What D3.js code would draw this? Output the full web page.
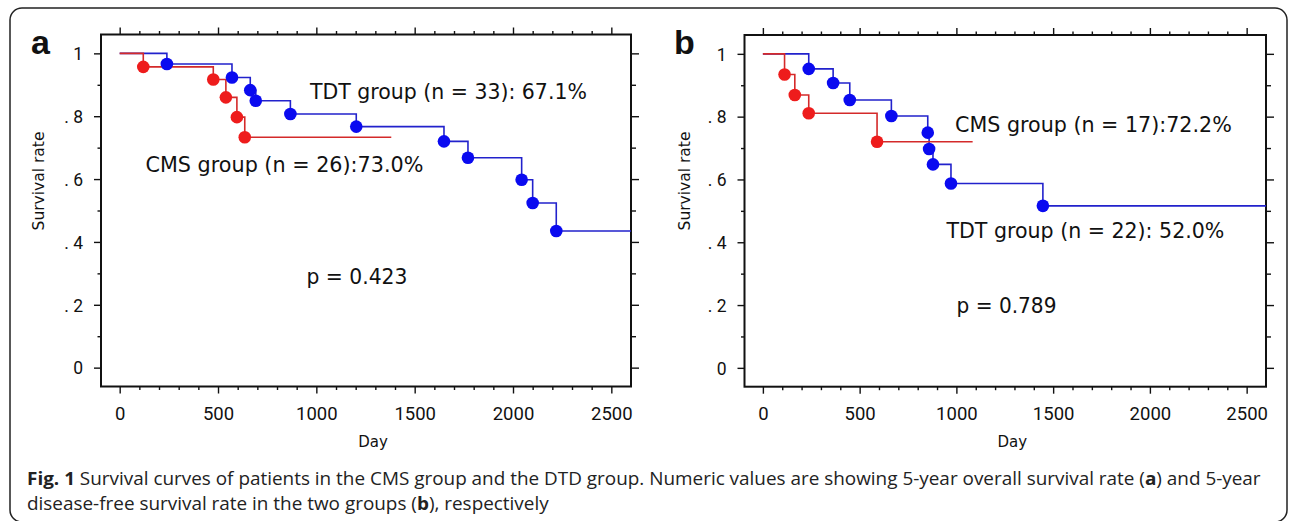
<!DOCTYPE html>
<html>
<head>
<meta charset="utf-8">
<script src="https://cdn.jsdelivr.net/npm/d3@7/dist/d3.min.js"></script>
<style>
  body { margin: 0; background: #fff; }
</style>
</head>
<body>
<script>
// ---- данные ----
var xMajorTicks = [0, 500, 1000, 1500, 2000, 2500];
var xMinorTicks = d3.range(100, 2600, 100).filter(function (d) { return d % 500 !== 0; });
var yMajorTicks = [0, 0.2, 0.4, 0.6, 0.8, 1];
var yMinorTicks = [0.1, 0.3, 0.5, 0.7, 0.9];
var yTickLabels = ["0", ". 2", ". 4", ". 6", ". 8", "1"];

// panel a: overall survival
var aCmsDays = [120, 476, 540, 596, 636];
var aCmsSurv = [0.957, 0.917, 0.860, 0.797, 0.733];
var aCmsEnd = 1381;
var aTdtDays = [240, 571, 664, 692, 868, 1203, 1649, 1771, 2044, 2100, 2220];
var aTdtSurv = [0.966, 0.923, 0.883, 0.849, 0.807, 0.767, 0.720, 0.668, 0.598, 0.524, 0.435];
var aTdtEnd = 2600;

// panel b: disease-free survival
var bCmsDays = [112, 165, 237, 590];
var bCmsSurv = [0.934, 0.869, 0.811, 0.720];
var bCmsEnd = 1084;
var bTdtDays = [237, 363, 449, 664, 852, 859, 879, 972, 1447];
var bTdtSurv = [0.952, 0.907, 0.853, 0.802, 0.749, 0.697, 0.648, 0.587, 0.516];
var bTdtEnd = 2600;

var xDomain = [-95, 2600];
var yDomain = [-0.06, 1.06];

var lineRed = "#d42a2a", dotRed = "#ee1c1c";
var lineBlue = "#2222cc", dotBlue = "#0a0af0";

var svg = d3.select("body").append("svg")
    .attr("width", 1290)
    .attr("height", 521);

// рамка вокруг рисунка
svg.append("rect")
    .attr("x", 10).attr("y", 8)
    .attr("width", 1277).attr("height", 514)
    .attr("rx", 12).attr("ry", 12)
    .style("fill", "none")
    .style("stroke", "#222")
    .style("stroke-width", 1.5);

// растянуть текст до нужной ширины
function fitScale(t, width) {
    var w = t.node().getBBox().width;
    return width / w;
}

function addLabel(g, str, x, y, width, size) {
    var t = g.append("text")
        .attr("x", 0).attr("y", 0)
        .style("font-family", "'DejaVu Sans', Verdana, sans-serif")
        .style("font-size", size + "px")
        .style("fill", "#111")
        .text(str);
    var k = fitScale(t, width);
    t.attr("transform", "translate(" + x + "," + y + ") scale(" + k + ",1)");
}

function steps(days, surv, end) {
    var pts = [[0, 1]];
    days.forEach(function (d, i) { pts.push([d, surv[i]]); });
    pts.push([end, surv[surv.length - 1]]);
    return pts;
}

function drawPanel(p) {
    var x = d3.scaleLinear().domain(xDomain).range([p.left, p.right]);
    var y = d3.scaleLinear().domain(yDomain).range([p.bottom, p.top]);
    var g = svg.append("g");

    function tickStyle(sel) {
        sel.select(".domain").remove();
        sel.selectAll("line").style("stroke", "#111").style("stroke-width", 1.4);
        sel.selectAll("text")
            .style("font-family", "Roboto, 'DejaVu Sans', sans-serif")
            .style("fill", "#111");
    }

    // left axis
    g.append("g").attr("transform", "translate(" + p.left + ",0)")
        .call(d3.axisLeft(y).tickValues(yMajorTicks).tickSize(7).tickPadding(11)
            .tickFormat(function (d, i) { return yTickLabels[i]; }))
        .call(tickStyle)
        .selectAll("text").style("font-size", "17.5px").attr("dy", "0.36em");
    g.append("g").attr("transform", "translate(" + p.left + ",0)")
        .call(d3.axisLeft(y).tickValues(yMinorTicks).tickSize(3.5).tickFormat(""))
        .call(tickStyle);

    // right axis
    g.append("g").attr("transform", "translate(" + p.right + ",0)")
        .call(d3.axisRight(y).tickValues(yMajorTicks).tickSize(8).tickFormat(""))
        .call(tickStyle);
    g.append("g").attr("transform", "translate(" + p.right + ",0)")
        .call(d3.axisRight(y).tickValues(yMinorTicks).tickSize(5).tickFormat(""))
        .call(tickStyle);

    // bottom axis
    g.append("g").attr("transform", "translate(0," + p.bottom + ")")
        .call(d3.axisBottom(x).tickValues(xMajorTicks).tickSize(7).tickPadding(13)
            .tickFormat(d3.format("d")))
        .call(tickStyle)
        .selectAll("text").style("font-size", "18.5px");
    g.append("g").attr("transform", "translate(0," + p.bottom + ")")
        .call(d3.axisBottom(x).tickValues(xMinorTicks).tickSize(3.5).tickFormat(""))
        .call(tickStyle);

    // top axis
    g.append("g").attr("transform", "translate(0," + p.top + ")")
        .call(d3.axisTop(x).tickValues(xMajorTicks).tickSize(7).tickFormat(""))
        .call(tickStyle);
    g.append("g").attr("transform", "translate(0," + p.top + ")")
        .call(d3.axisTop(x).tickValues(xMinorTicks).tickSize(3.5).tickFormat(""))
        .call(tickStyle);

    // frame of plot
    g.append("rect")
        .attr("x", p.left).attr("y", p.top)
        .attr("width", p.right - p.left).attr("height", p.bottom - p.top)
        .style("fill", "none")
        .style("stroke", "#111")
        .style("stroke-width", 2);

    var line = d3.line()
        .x(function (d) { return x(d[0]); })
        .y(function (d) { return y(d[1]); })
        .curve(d3.curveStepAfter);

    g.append("path").attr("d", line(steps(p.tdtDays, p.tdtSurv, p.tdtEnd)))
        .style("fill", "none").style("stroke", lineBlue).style("stroke-width", 1.6);
    g.append("path").attr("d", line(steps(p.cmsDays, p.cmsSurv, p.cmsEnd)))
        .style("fill", "none").style("stroke", lineRed).style("stroke-width", 1.6);

    g.selectAll(".dotCms").data(p.cmsDays).enter().append("circle")
        .attr("cx", function (d) { return x(d); })
        .attr("cy", function (d, i) { return y(p.cmsSurv[i]); })
        .attr("r", 6.3)
        .style("fill", dotRed);
    g.selectAll(".dotTdt").data(p.tdtDays).enter().append("circle")
        .attr("cx", function (d) { return x(d); })
        .attr("cy", function (d, i) { return y(p.tdtSurv[i]); })
        .attr("r", 6.3)
        .style("fill", dotBlue);

    // axis titles
    g.append("text")
        .attr("transform", "translate(" + p.yTitleX + ",181) rotate(-90)")
        .attr("text-anchor", "middle")
        .style("font-family", "'DejaVu Sans', Verdana, sans-serif")
        .style("font-size", "15.5px")
        .style("fill", "#111")
        .text("Survival rate");
    g.append("text")
        .attr("x", (p.left + p.right) / 2 + 7).attr("y", 447)
        .attr("text-anchor", "middle")
        .style("font-family", "'DejaVu Sans', Verdana, sans-serif")
        .style("font-size", "15px")
        .style("fill", "#111")
        .text("Day");

    // panel letter
    g.append("text")
        .attr("x", p.letterX).attr("y", 53.5)
        .style("font-family", "'Liberation Sans', Arial, sans-serif")
        .style("font-weight", "bold")
        .style("font-size", "34px")
        .style("fill", "#111")
        .text(p.letter);

    p.notes.forEach(function (n) {
        addLabel(g, n.text, n.x, n.y, n.w, 21);
    });
}

drawPanel({
    letter: "a", letterX: 31,
    left: 101, right: 631, top: 34.5, bottom: 386.5, yTitleX: 43.5,
    cmsDays: aCmsDays, cmsSurv: aCmsSurv, cmsEnd: aCmsEnd,
    tdtDays: aTdtDays, tdtSurv: aTdtSurv, tdtEnd: aTdtEnd,
    notes: [
        { text: "TDT group (n = 33): 67.1%", x: 310, y: 98.5, w: 278 },
        { text: "CMS group (n = 26):73.0%", x: 145.5, y: 171.5, w: 278 },
        { text: "p = 0.423", x: 306.5, y: 284, w: 101 }
    ]
});

drawPanel({
    letter: "b", letterX: 674,
    left: 744.5, right: 1266, top: 35, bottom: 386.7, yTitleX: 690,
    cmsDays: bCmsDays, cmsSurv: bCmsSurv, cmsEnd: bCmsEnd,
    tdtDays: bTdtDays, tdtSurv: bTdtSurv, tdtEnd: bTdtEnd,
    notes: [
        { text: "CMS group (n = 17):72.2%", x: 955, y: 132, w: 277 },
        { text: "TDT group (n = 22): 52.0%", x: 946.5, y: 237.5, w: 279 },
        { text: "p = 0.789", x: 956.5, y: 312.5, w: 100 }
    ]
});

// подпись к рисунку
function captionLine(parts, y) {
    var t = svg.append("text")
        .attr("x", 0).attr("y", 0)
        .style("font-family", "'Open Sans', 'Noto Sans', sans-serif")
        .style("font-size", "18px")
        .style("fill", "#222");
    parts.forEach(function (p) {
        t.append("tspan")
            .style("font-weight", p[1] ? "bold" : "normal")
            .text(p[0]);
    });
    return t;
}

var cap1 = captionLine([
    ["Fig. 1", true],
    [" Survival curves of patients in the CMS group and the DTD group. Numeric values are showing 5-year overall survival rate (", false],
    ["a", true],
    [") and 5-year", false]
]);
var cap2 = captionLine([
    ["disease-free survival rate in the two groups (", false],
    ["b", true],
    ["), respectively", false]
]);
var kCap = fitScale(cap1, 1235);
cap1.attr("transform", "translate(27,485) scale(" + kCap + ",1)");
cap2.attr("transform", "translate(27,510) scale(" + kCap + ",1)");
</script>
</body>
</html>
